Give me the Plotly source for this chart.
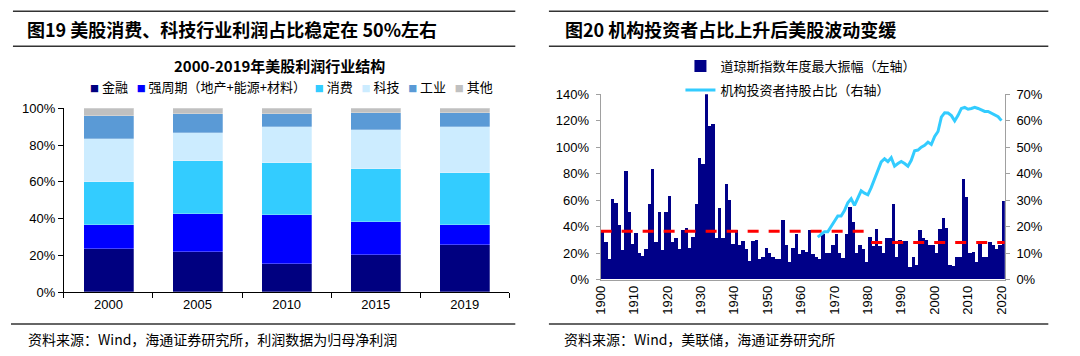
import plotly.graph_objects as go

# ---------------- Left chart data (share of profits, %) ----------------
years_left = ["2000", "2005", "2010", "2015", "2019"]
sector_names = ["金融", "强周期（地产+能源+材料）", "消费", "科技", "工业", "其他"]
finance = [23.5, 21.6, 15.1, 20.0, 25.6]
cyclical = [12.8, 21.0, 26.6, 18.1, 11.1]
consumer = [23.5, 28.9, 28.7, 28.9, 28.2]
tech = [23.5, 15.1, 19.3, 20.8, 24.8]
industrial = [12.4, 10.3, 7.3, 9.6, 7.7]
other = [4.3, 3.1, 3.0, 2.6, 2.6]
sector_colors = ["#000080", "#0000FF", "#33CCFF", "#CCECFF", "#5A9AD6", "#C0C0C0"]
left_ticks = [0, 20, 40, 60, 80, 100]

# ---------------- Right chart data ----------------
amp_years = list(range(1900, 2021))
dow_amplitude = [
    36, 28, 15, 61, 58, 41, 22, 82, 51, 27,      # 1900s
    35, 20, 18, 23, 57, 83, 28, 51, 22, 51,      # 1910s
    63, 28, 31, 23, 37, 39, 24, 32, 57, 92,      # 1920s
    87, 140, 116, 117, 31, 54, 31, 72, 60, 27,   # 1930s
    37, 26, 29, 23, 14, 29, 30, 15, 17, 24,      # 1940s
    20, 17, 15, 15, 45, 26, 13, 24, 34, 19,      # 1950s
    22, 21, 37, 19, 17, 15, 34, 20, 20, 26,      # 1960s
    34, 20, 16, 34, 55, 43, 20, 26, 23, 13,      # 1970s
    32, 25, 38, 25, 20, 31, 31, 57, 17, 30,      # 1980s
    29, 29, 9, 17, 11, 37, 31, 30, 26, 26,       # 1990s
    20, 38, 46, 39, 11, 10, 17, 17, 76, 62,      # 2000s
    20, 21, 13, 27, 17, 17, 28, 26, 23, 26,      # 2010s
    59,                                          # 2020
]
inst_years = list(range(1965, 2021))
inst_share = [
    16, 17, 18, 18, 20, 22, 24, 24, 26, 29,                      # 1965-1974
    30.5, 28, 30.5, 33.5, 32.6, 32, 34.7, 38, 41.6, 44.4,        # 1975-1984
    45.6, 44.5, 46, 42.8, 43.8, 44.6, 43.8, 42.8, 45, 48.6,      # 1985-1994
    48.9, 50, 50.7, 51.9, 51, 54, 55.9, 61.3, 63, 62.9,          # 1995-2004
    61.9, 59.9, 62, 64.6, 65, 64.3, 64.6, 65, 64.6, 64,          # 2005-2014
    63.5, 63.5, 62.8, 62.3, 61.5, 60,                            # 2015-2020
]
avg_periods = [[1900, 1980], [1981, 2021]]
avg_levels = [36.5, 28]
right_ticks_left = [0, 20, 40, 60, 80, 100, 120, 140]
right_ticks_right = [0, 10, 20, 30, 40, 50, 60, 70]
decade_ticks = list(range(1900, 2021, 10))

W, H = 1080, 356
def px(x):
    return x / W
def py(y):
    return 1 - y / H
def pct(vals):
    return [f"{v}%" for v in vals]

CJK = "Noto Sans CJK SC"
NUM = "Liberation Sans, Arial, sans-serif"

fig = go.Figure()

series = [finance, cyclical, consumer, tech, industrial, other]
for name, vals, col in zip(sector_names, series, sector_colors):
    fig.add_trace(go.Bar(
        x=years_left, y=vals, name=name, marker_color=col,
        marker_line=dict(color="rgba(255,255,255,0.45)", width=0.6),
        width=0.56, xaxis="x", yaxis="y", showlegend=False,
    ))

fig.add_trace(go.Bar(
    x=amp_years, y=dow_amplitude, name="道琼斯指数年度最大振幅（左轴）",
    marker_color="#000088", marker_line_width=0, width=1, offset=0,
    xaxis="x2", yaxis="y2", legend="legend2", legendgroup="a",
))
for (x0, x1), lvl in zip(avg_periods, avg_levels):
    fig.add_trace(go.Scatter(
        x=[x0, x1], y=[lvl, lvl], mode="lines",
        line=dict(color="#FF0000", width=3, dash="11px,10px"),
        xaxis="x2", yaxis="y2", showlegend=False, hoverinfo="skip",
    ))
fig.add_trace(go.Scatter(
    x=inst_years, y=inst_share, mode="lines", name="机构投资者持股占比（右轴）",
    line=dict(color="#33CCFF", width=3), xaxis="x2", yaxis="y3",
    legend="legend2", legendgroup="b",
))

tickfont = dict(family=NUM, size=13, color="#000000")

fig.update_layout(
    width=W, height=H, margin=dict(l=0, r=0, t=0, b=0),
    paper_bgcolor="white", plot_bgcolor="white",
    barmode="stack", bargap=0,
    font=dict(family=CJK, size=13, color="#000000"),
    xaxis=dict(domain=[px(56.5), px(507)], type="category", tickson="boundaries",
               ticks="outside", ticklen=5, tickcolor="#000", showline=True,
               linecolor="#000", linewidth=1, tickfont=tickfont, showgrid=False),
    yaxis=dict(domain=[py(298), py(105.7)], range=[0, 100], tickmode="array",
               tickvals=left_ticks, ticktext=pct(left_ticks),
               ticks="outside", ticklen=5, tickcolor="#000",
               showline=True, linecolor="#000", linewidth=1, showgrid=False,
               zeroline=False, tickfont=tickfont),
    xaxis2=dict(domain=[px(599.3), px(1008)], range=[1900, 2021], tickvals=decade_ticks,
                tickangle=-90, ticks="", showline=True, linecolor="#A0A0A0",
                showgrid=False, zeroline=False, tickfont=tickfont, anchor="y2"),
    yaxis2=dict(domain=[py(284.5), py(91)], range=[0, 140], tickmode="array",
                tickvals=right_ticks_left, ticktext=pct(right_ticks_left),
                ticks="outside", ticklen=4, tickcolor="#A0A0A0",
                showline=True, linecolor="#A0A0A0", showgrid=False, zeroline=False,
                tickfont=tickfont, anchor="x2", ticklabelstandoff=4),
    yaxis3=dict(range=[0, 70], tickmode="array", tickvals=right_ticks_right,
                ticktext=pct(right_ticks_right),
                overlaying="y2", side="right", anchor="x2", ticks="outside",
                ticklen=4, tickcolor="#A0A0A0", showline=True, linecolor="#A0A0A0",
                showgrid=False, zeroline=False, tickfont=tickfont, ticklabelstandoff=4),
    legend2=dict(x=px(680), y=py(46), xanchor="left", yanchor="top",
                 orientation="v", bgcolor="rgba(0,0,0,0)", tracegroupgap=4,
                 font=dict(family=CJK, size=13, color="#000")),
)

# Decorative header/footer rules
rules = [
    (5, 513, 4.5), (5, 513, 41), (3, 513, 331),
    (547, 1052, 4.5), (547, 1052, 41), (547, 1052, 331),
]
for x0, x1, y in rules:
    fig.add_shape(type="line", xref="paper", yref="paper",
                  x0=px(x0), x1=px(x1), y0=py(y), y1=py(y),
                  line=dict(color="#333333", width=1.6))

ann = []
ann.append(dict(text="<b>图19 美股消费、科技行业利润占比稳定在 50%左右</b>",
                x=px(17), y=py(23), xanchor="left", yanchor="middle",
                font=dict(family=CJK, size=18, color="#000")))
ann.append(dict(text="<b>图20 机构投资者占比上升后美股波动变缓</b>",
                x=px(561), y=py(23), xanchor="left", yanchor="middle",
                font=dict(family=CJK, size=18, color="#000")))
ann.append(dict(text="<b>2000-2019年美股利润行业结构</b>",
                x=px(275), y=py(61), xanchor="center", yanchor="middle",
                font=dict(family=CJK, size=15, color="#000")))
legend_parts = []
for name, col in zip(sector_names, sector_colors):
    legend_parts.append(f'<span style="color:{col};font-size:9px">■</span>\u00a0{name}')
ann.append(dict(text="\u00a0\u00a0\u00a0".join(legend_parts),
                x=px(287), y=py(83), xanchor="center", yanchor="middle",
                font=dict(family=CJK, size=13, color="#000")))
ann.append(dict(text="资料来源：Wind，海通证券研究所，利润数据为归母净利润",
                x=px(18), y=py(347), xanchor="left", yanchor="middle",
                font=dict(family=CJK, size=14, color="#000")))
ann.append(dict(text="资料来源：Wind，美联储，海通证券研究所",
                x=px(560), y=py(347), xanchor="left", yanchor="middle",
                font=dict(family=CJK, size=14, color="#000")))
for a in ann:
    a.update(xref="paper", yref="paper", showarrow=False)
fig.update_layout(annotations=ann)

fig.write_html("out.html", include_plotlyjs=True, full_html=True,
               default_width="1080px", default_height="356px",
               config={"displayModeBar": False},
               post_script="document.body.style.margin='0';document.body.style.overflow='hidden';")
